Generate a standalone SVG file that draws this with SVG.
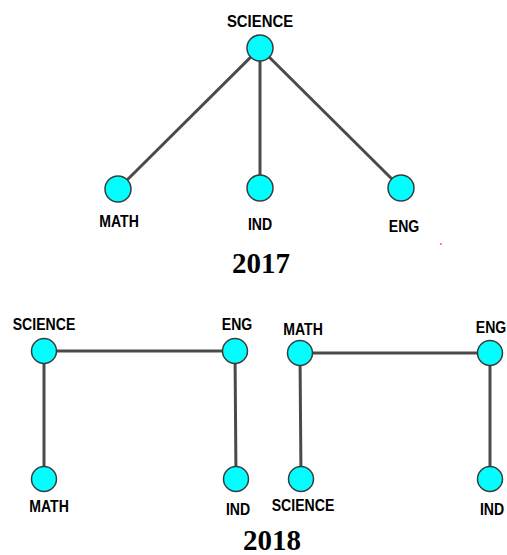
<svg xmlns="http://www.w3.org/2000/svg" width="507" height="555" viewBox="0 0 507 555">
<style>
.edge{stroke:#4a4a4a;stroke-width:3;fill:none}
.node{fill:#00ffff;stroke:#3c3c3c;stroke-width:1.5}
.lbl{font-family:"Liberation Sans",Arial,sans-serif;font-weight:bold;font-size:16px;fill:#000;text-anchor:middle}
.year{font-family:"Liberation Serif","Times New Roman",serif;font-weight:bold;font-size:29px;fill:#000;text-anchor:middle}
</style>
<rect width="507" height="555" fill="#fff"/>
<g id="connectors">
<line class="edge" x1="260" y1="48" x2="118" y2="189"/>
<line class="edge" x1="260" y1="48" x2="260" y2="188"/>
<line class="edge" x1="260" y1="48" x2="401" y2="188"/>
<line class="edge" x1="44" y1="351" x2="235" y2="351"/>
<line class="edge" x1="44" y1="351" x2="44" y2="479"/>
<line class="edge" x1="235" y1="351" x2="236" y2="479"/>
<line class="edge" x1="300" y1="353" x2="490" y2="353"/>
<line class="edge" x1="300" y1="353" x2="301" y2="479"/>
<line class="edge" x1="490" y1="353" x2="490" y2="479"/>
</g>
<g id="t-science"><circle class="node" cx="260" cy="48" r="13"/><text class="lbl" transform="translate(260,27) scale(0.93,1)">SCIENCE</text></g>
<g id="t-math"><circle class="node" cx="118" cy="189" r="13"/><text class="lbl" transform="translate(119,227) scale(0.88,1)">MATH</text></g>
<g id="t-ind"><circle class="node" cx="260" cy="188" r="13"/><text class="lbl" transform="translate(260,230) scale(0.88,1)">IND</text></g>
<g id="t-eng"><circle class="node" cx="401" cy="188" r="13"/><text class="lbl" transform="translate(404,232) scale(0.88,1)">ENG</text></g>
<circle cx="441" cy="244" r="1" fill="#ff6060"/>
<text class="year" x="261" y="273">2017</text>
<g id="l-science"><circle class="node" cx="44" cy="351" r="12.5"/><text class="lbl" transform="translate(44,330) scale(0.88,1)">SCIENCE</text></g>
<g id="l-eng"><circle class="node" cx="235" cy="351" r="12.5"/><text class="lbl" transform="translate(237,330) scale(0.88,1)">ENG</text></g>
<g id="l-math"><circle class="node" cx="44" cy="479" r="12.5"/><text class="lbl" transform="translate(49,512) scale(0.88,1)">MATH</text></g>
<g id="l-ind"><circle class="node" cx="236" cy="479" r="12.5"/><text class="lbl" transform="translate(238,515) scale(0.88,1)">IND</text></g>
<g id="r-math"><circle class="node" cx="300" cy="353" r="12.5"/><text class="lbl" transform="translate(303,335) scale(0.88,1)">MATH</text></g>
<g id="r-eng"><circle class="node" cx="490" cy="353" r="12.5"/><text class="lbl" transform="translate(491,333) scale(0.88,1)">ENG</text></g>
<g id="r-science"><circle class="node" cx="301" cy="479" r="12.5"/><text class="lbl" transform="translate(303,511) scale(0.88,1)">SCIENCE</text></g>
<g id="r-ind"><circle class="node" cx="490" cy="479" r="12.5"/><text class="lbl" transform="translate(492,515) scale(0.88,1)">IND</text></g>
<text class="year" x="272" y="550">2018</text>
</svg>
